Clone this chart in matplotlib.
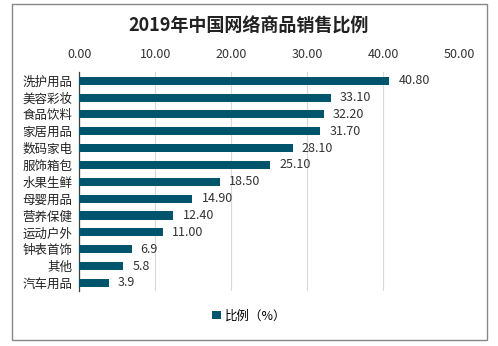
import matplotlib
matplotlib.use("Agg")
import matplotlib.pyplot as plt
from matplotlib.patches import Rectangle

plt.rcParams['font.family'] = ['Noto Sans CJK SC', 'DejaVu Sans']

# 2019 online sales share by category (%)
categories = ['洗护用品', '美容彩妆', '食品饮料', '家居用品', '数码家电', '服饰箱包',
              '水果生鲜', '母婴用品', '营养保健', '运动户外', '钟表首饰', '其他', '汽车用品']
values = [40.80, 33.10, 32.20, 31.70, 28.10, 25.10, 18.50, 14.90, 12.40, 11.00, 6.9, 5.8, 3.9]
value_labels = ['40.80', '33.10', '32.20', '31.70', '28.10', '25.10', '18.50',
                '14.90', '12.40', '11.00', '6.9', '5.8', '3.9']
x_ticks = [0, 10, 20, 30, 40, 50]

bar_color = '#00546C'

fig = plt.figure(figsize=(4.98, 3.46), dpi=100)
ax = fig.add_axes([0.159, 0.158, 0.763, 0.633])

y = list(range(len(categories)))
ax.barh(y, values, height=0.48, color=bar_color, label='比例（%）', zorder=3)
for yi, v, lab in zip(y, values, value_labels):
    ax.text(v + 1.2, yi, lab, va='center', ha='left', fontsize=9, color='#333333')

ax.set_ylim(len(categories) - 0.5, -0.5)
ax.set_xlim(0, 50)
ax.set_yticks(y)
ax.set_yticklabels(categories, fontsize=9, color='#222222')
ax.set_xticks(x_ticks)
ax.set_xticklabels([f'{t:.2f}' for t in x_ticks], fontsize=9, color='#333333')
ax.xaxis.tick_top()
ax.tick_params(axis='both', length=0, pad=5)
ax.tick_params(axis='x', pad=8)
ax.grid(axis='x', color='#d9d9d9', linewidth=0.8, zorder=0)
for s in ['top', 'right', 'bottom']:
    ax.spines[s].set_visible(False)
ax.spines['left'].set_color('#404040')
ax.spines['left'].set_linewidth(0.9)

fig.text(0.5, 0.925, '2019年中国网络商品销售比例', ha='center', va='center',
         fontsize=13, fontweight='bold', color='#222222')

fig.legend(loc='center', bbox_to_anchor=(0.5, 0.087), frameon=False, fontsize=9,
           handlelength=0.7, handleheight=0.7, handletextpad=0.3)

# outer frame
fig.patches.append(Rectangle((0.024, 0.017), 0.953, 0.97, transform=fig.transFigure,
                             fill=False, edgecolor='#888888', linewidth=1.0))

fig.savefig('out.png', dpi=100)
